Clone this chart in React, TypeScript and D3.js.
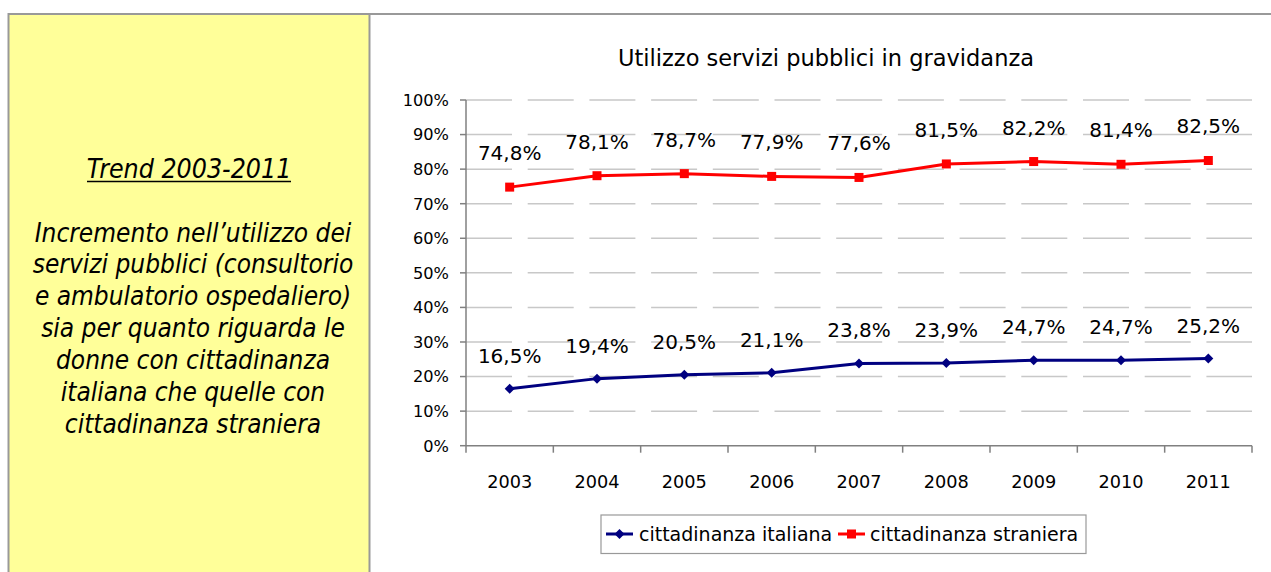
import React from "react";
import * as d3 from "d3";

const years = ["2003", "2004", "2005", "2006", "2007", "2008", "2009", "2010", "2011"];
const italiana = [16.5, 19.4, 20.5, 21.1, 23.8, 23.9, 24.7, 24.7, 25.2];
const straniera = [74.8, 78.1, 78.7, 77.9, 77.6, 81.5, 82.2, 81.4, 82.5];
const yTicks = [0, 10, 20, 30, 40, 50, 60, 70, 80, 90, 100];
const seriesNames = ["cittadinanza italiana", "cittadinanza straniera"];
const chartTitle = "Utilizzo servizi pubblici in gravidanza";
const panelTitle = "Trend 2003-2011";
const panelLines = [
  "Incremento nell\u2019utilizzo dei",
  "servizi pubblici (consultorio",
  "e ambulatorio ospedaliero)",
  "sia per quanto riguarda le",
  "donne con cittadinanza",
  "italiana che quelle con",
  "cittadinanza straniera",
];

const W = 1271;
const H = 572;
const comic = "'DejaVu Sans', Verdana, sans-serif";
const tahoma = "'DejaVu Sans', sans-serif";
const panelFont = "'DejaVu Sans Condensed', 'DejaVu Sans', sans-serif";

export default function App() {
  const x = d3.scaleBand<string>().domain(years).range([466, 1252]).padding(0);
  const y = d3.scaleLinear().domain([0, 100]).range([445.7, 100]);
  const cx = (yr: string) => (x(yr) as number) + x.bandwidth() / 2;
  const line = d3
    .line<number>()
    .x((_, i) => cx(years[i]))
    .y((d) => y(d));
  const fmt = (v: number) => v.toFixed(1).replace(".", ",") + "%";
  const diamond = (px: number, py: number, r: number) =>
    `M${px},${py - r}L${px + r},${py}L${px},${py + r}L${px - r},${py}Z`;

  const boundaries = [...years.map((yr) => x(yr) as number), 1252];

  return (
    <svg
      width={W}
      height={H}
      style={{ position: "absolute", left: 0, top: 0, background: "#fff" }}
    >
      {/* left yellow panel */}
      <rect x={8.5} y={14} width={361} height={600} fill="#FFFF99" stroke="#999" strokeWidth={2} />
      <line x1={369.5} y1={14} x2={1280} y2={14} stroke="#999" strokeWidth={2} />
      <text
        x={189}
        y={178}
        textAnchor="middle"
        fontFamily={panelFont}
        fontStyle="italic"
        fontStretch="condensed"
        fontSize={26.5}
      >
        {panelTitle}
      </text>
      <line x1={87} x2={291} y1={181.5} y2={181.5} stroke="#000" strokeWidth={1.5} />
      {panelLines.map((t, i) => (
        <text
          key={i}
          x={193}
          y={241.5 + i * 31.9}
          textAnchor="middle"
          fontFamily={panelFont}
          fontStyle="italic"
          fontStretch="condensed"
          fontSize={26}
        >
          {t}
        </text>
      ))}

      {/* title */}
      <text x={826} y={66} textAnchor="middle" fontFamily={comic} fontSize={22.5}>
        {chartTitle}
      </text>

      {/* gridlines */}
      {yTicks
        .filter((t) => t > 0)
        .map((t) => (
          <line
            key={t}
            x1={466}
            x2={1252}
            y1={y(t)}
            y2={y(t)}
            stroke="#c8c8c8"
            strokeWidth={1.5}
            strokeDasharray="46 15.7"
          />
        ))}

      {/* axes */}
      <line x1={466} x2={466} y1={y(100)} y2={y(0)} stroke="#808080" strokeWidth={1.5} />
      <line x1={466} x2={1252} y1={y(0)} y2={y(0)} stroke="#808080" strokeWidth={1.5} />
      {yTicks.map((t) => (
        <g key={t}>
          <line x1={460} x2={466} y1={y(t)} y2={y(t)} stroke="#808080" strokeWidth={1.5} />
          <text
            x={449}
            y={y(t)}
            dy="0.36em"
            textAnchor="end"
            fontFamily={tahoma}
            fontSize={16.2}
          >
            {t + "%"}
          </text>
        </g>
      ))}
      {boundaries.map((bx, i) => (
        <line key={i} x1={bx} x2={bx} y1={y(0)} y2={y(0) + 7} stroke="#808080" strokeWidth={1.5} />
      ))}
      {years.map((yr) => (
        <text key={yr} x={cx(yr)} y={488} textAnchor="middle" fontFamily={tahoma} fontSize={17.7}>
          {yr}
        </text>
      ))}

      {/* series */}
      <path d={line(straniera) || ""} fill="none" stroke="#FF0000" strokeWidth={3} />
      <path d={line(italiana) || ""} fill="none" stroke="#000080" strokeWidth={3} />
      {straniera.map((v, i) => (
        <g key={"s" + i}>
          <rect x={cx(years[i]) - 4.5} y={y(v) - 4.5} width={9} height={9} fill="#FF0000" />
          <text x={cx(years[i])} y={y(v) - 27} textAnchor="middle" fontFamily={comic} fontSize={20}>
            {fmt(v)}
          </text>
        </g>
      ))}
      {italiana.map((v, i) => (
        <g key={"i" + i}>
          <path d={diamond(cx(years[i]), y(v), 5)} fill="#000080" />
          <text x={cx(years[i])} y={y(v) - 26} textAnchor="middle" fontFamily={comic} fontSize={20}>
            {fmt(v)}
          </text>
        </g>
      ))}

      {/* legend */}
      <rect x={601} y={515} width={485} height={38.5} fill="#fff" stroke="#999" strokeWidth={1.2} />
      <line x1={606} x2={633} y1={534} y2={534} stroke="#000080" strokeWidth={3} />
      <path d={diamond(619.5, 534, 5)} fill="#000080" />
      <text x={639} y={534} dy="0.36em" fontFamily={comic} fontSize={19}>
        {seriesNames[0]}
      </text>
      <line x1={838} x2={865} y1={534} y2={534} stroke="#FF0000" strokeWidth={3} />
      <rect x={847} y={529.5} width={9} height={9} fill="#FF0000" />
      <text x={870} y={534} dy="0.36em" fontFamily={comic} fontSize={19}>
        {seriesNames[1]}
      </text>
    </svg>
  );
}
